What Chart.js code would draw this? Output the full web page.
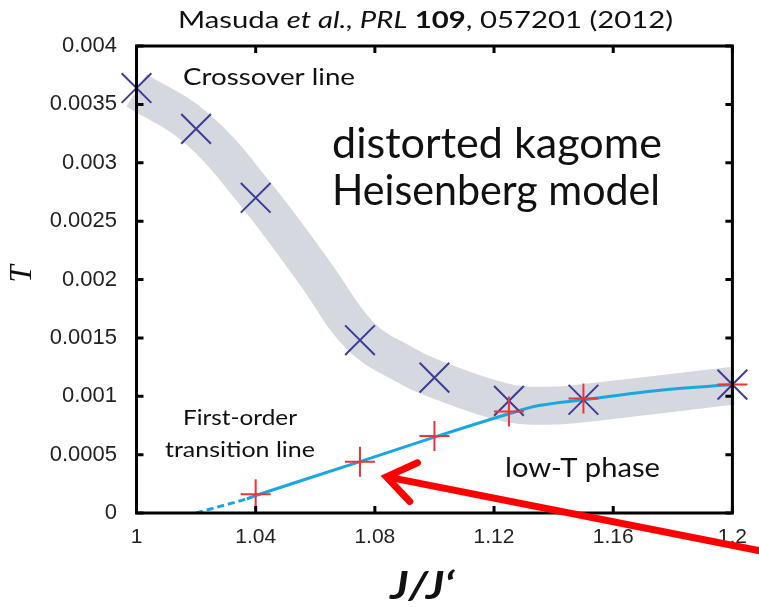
<!DOCTYPE html>
<html>
<head>
<meta charset="utf-8">
<script src="https://cdn.jsdelivr.net/npm/chart.js@4"></script>
<style>
  html, body { margin: 0; padding: 0; background: #fff; }
  #wrap { width: 759px; height: 607px; position: relative; }
</style>
</head>
<body>
<div id="wrap"><canvas id="c" width="759" height="607"></canvas></div>
<script>
// ---------- data ----------
const crossoverJ = [1, 1.02, 1.04, 1.075, 1.1, 1.125, 1.15, 1.2];
const crossoverT = [0.00364, 0.00329, 0.0027, 0.00148, 0.00116, 0.00096, 0.00097, 0.0011];

const transitionJ = [1.04, 1.075, 1.1, 1.125, 1.15, 1.2];
const transitionT = [0.00016, 0.00044, 0.00066, 0.00087, 0.00098, 0.0011];

// guide band drawn along the crossover line
const bandJ = [1, 1.02, 1.04, 1.06, 1.075, 1.09, 1.1, 1.125, 1.14, 1.15, 1.2];
const bandT = [0.00362, 0.0033, 0.00273, 0.00205, 0.00152, 0.00127, 0.00115, 0.00094, 0.00092, 0.00094, 0.00109];

// first-order transition line (dashed extrapolation + solid part)
const lineDashJ = [1.02, 1.037];
const lineDashT = [0, 0.00012];
const lineJ = [1.037, 1.04, 1.075, 1.1, 1.125, 1.135, 1.15, 1.175, 1.2];
const lineT = [0.00012, 0.00015, 0.00044, 0.00065, 0.00085, 0.00092, 0.00097, 0.00105, 0.0011];

const xTickValues = [1, 1.04, 1.08, 1.12, 1.16, 1.2];
const xTickLabels = ['1', '1.04', '1.08', '1.12', '1.16', '1.2'];
const yTickValues = [0, 0.0005, 0.001, 0.0015, 0.002, 0.0025, 0.003, 0.0035, 0.004];
const yTickLabels = ['0', '0.0005', '0.001', '0.0015', '0.002', '0.0025', '0.003', '0.0035', '0.004'];

// arrow annotation (data coordinates: tail -> tip)
const arrowJ = [1.2085, 1.0839];
const arrowT = [-0.00032, 0.00031];

const pts = (xs, ys) => xs.map((x, i) => ({ x: x, y: ys[i] }));

// ---------- annotation texts ----------
const CAL = "Lato, 'Open Sans', sans-serif";
const CAP = 0.7165; // Lato cap-height / em
const texts = [
  { t: 'Crossover line', x: 183, y: 85, w: 172, cap: 17, align: 'left', style: '' },
  { t: 'distorted kagome', x: 332, y: 158, w: 330, cap: 30, align: 'left', style: '' },
  { t: 'Heisenberg model', x: 332, y: 205, w: 328, cap: 30, align: 'left', style: '' },
  { t: 'First-order', x: 240, y: 425, w: 114, cap: 15, align: 'center', style: '' },
  { t: 'transition line', x: 240, y: 457, w: 150, cap: 15, align: 'center', style: '' },
  { t: 'low-T phase', x: 505, y: 477, w: 155, cap: 19, align: 'left', style: '' },
  { t: 'J/J\u2018', x: 422, y: 599, w: 64, cap: 27, align: 'center', style: 'italic bold ' }
];

function drawFitted(ctx, o) {
  const size = o.cap / CAP;
  ctx.font = o.style + size.toFixed(1) + 'px ' + CAL;
  const w = ctx.measureText(o.t).width;
  const sx = o.w / w;
  let left = o.x;
  if (o.align === 'center') left = o.x - o.w / 2;
  ctx.save();
  ctx.translate(left, o.y);
  ctx.scale(sx, 1);
  ctx.textAlign = 'left';
  ctx.fillText(o.t, 0, 0);
  ctx.restore();
}

const deco = {
  id: 'deco',
  afterDatasetsDraw(chart) {
    const ctx = chart.ctx;
    const a = chart.chartArea;
    const xs = chart.scales.x, ys = chart.scales.y;
    ctx.save();
    // frame
    ctx.strokeStyle = '#000';
    ctx.lineWidth = 3;
    ctx.strokeRect(a.left, a.top, a.right - a.left, a.bottom - a.top);
    // inward ticks
    const tl = 7;
    xTickValues.forEach(v => {
      const px = xs.getPixelForValue(v);
      ctx.beginPath();
      ctx.moveTo(px, a.bottom); ctx.lineTo(px, a.bottom - tl);
      ctx.moveTo(px, a.top); ctx.lineTo(px, a.top + tl);
      ctx.stroke();
    });
    yTickValues.forEach(v => {
      const py = ys.getPixelForValue(v);
      ctx.beginPath();
      ctx.moveTo(a.left, py); ctx.lineTo(a.left + tl, py);
      ctx.moveTo(a.right, py); ctx.lineTo(a.right - tl, py);
      ctx.stroke();
    });

    // texts
    ctx.fillStyle = '#111';
    ctx.textBaseline = 'alphabetic';
    texts.forEach(o => drawFitted(ctx, o));

    // title with mixed styles
    const segs = [
      { t: 'Masuda ', s: '' },
      { t: 'et al., PRL', s: 'italic ' },
      { t: ' ', s: '' },
      { t: '109', s: 'bold ' },
      { t: ', 057201 (2012)', s: '' }
    ];
    const tsize = 17 / CAP;
    let tot = 0;
    segs.forEach(g => { ctx.font = g.s + tsize.toFixed(1) + 'px ' + CAL; tot += ctx.measureText(g.t).width; });
    const tsx = 495 / tot;
    ctx.save();
    ctx.translate(178, 28);
    ctx.scale(tsx, 1);
    let cx = 0;
    ctx.textAlign = 'left';
    segs.forEach(g => {
      ctx.font = g.s + tsize.toFixed(1) + 'px ' + CAL;
      ctx.fillText(g.t, cx, 0);
      cx += ctx.measureText(g.t).width;
    });
    ctx.restore();

    // y axis label
    ctx.save();
    ctx.translate(23, 274);
    ctx.rotate(-Math.PI / 2);
    ctx.font = "italic 31px 'Liberation Serif', serif";
    ctx.textAlign = 'center';
    ctx.textBaseline = 'middle';
    ctx.fillStyle = '#111';
    ctx.fillText('T', 0, 0);
    ctx.restore();

    // red arrow
    const x0 = xs.getPixelForValue(arrowJ[0]), y0 = ys.getPixelForValue(arrowT[0]);
    const x1 = xs.getPixelForValue(arrowJ[1]), y1 = ys.getPixelForValue(arrowT[1]);
    const ang = Math.atan2(y1 - y0, x1 - x0);
    ctx.strokeStyle = '#ff0000';
    ctx.lineWidth = 7;
    ctx.lineCap = 'round';
    ctx.lineJoin = 'miter';
    ctx.beginPath();
    ctx.moveTo(x0 + 20, y0 + 20 * Math.tan(ang));
    ctx.lineTo(x1 - 3 * Math.cos(ang), y1 - 3 * Math.sin(ang));
    ctx.stroke();
    const hl = 34, ha = 0.62;
    ctx.beginPath();
    ctx.moveTo(x1 - hl * Math.cos(ang - ha), y1 - hl * Math.sin(ang - ha));
    ctx.lineTo(x1, y1);
    ctx.lineTo(x1 - hl * Math.cos(ang + ha), y1 - hl * Math.sin(ang + ha));
    ctx.stroke();
    ctx.restore();
  }
};

const xTickFont = { family: "'Liberation Sans', Arial, sans-serif", size: 21 };
const yTickFont = { family: "'Liberation Sans', Arial, sans-serif", size: 22 };

new Chart(document.getElementById('c'), {
  type: 'scatter',
  data: {
    datasets: [
      {
        label: 'band', data: pts(bandJ, bandT), showLine: true,
        borderColor: '#d5d8de', borderWidth: 38, tension: 0.4,
        pointRadius: 0, borderCapStyle: 'butt', clip: false, order: 5
      },
      {
        label: 'dash', data: pts(lineDashJ, lineDashT), showLine: true,
        borderColor: '#1aa7e0', borderWidth: 3, borderDash: [7, 4],
        pointRadius: 0, order: 4
      },
      {
        label: 'transition line', data: pts(lineJ, lineT), showLine: true,
        borderColor: '#1aa7e0', borderWidth: 3, tension: 0.35,
        pointRadius: 0, order: 3
      },
      {
        label: 'crossover', data: pts(crossoverJ, crossoverT), showLine: false,
        pointStyle: 'crossRot', pointRadius: 21, pointBorderWidth: 2,
        borderColor: '#3d3d98', backgroundColor: '#3d3d98', clip: false, order: 2
      },
      {
        label: 'first order', data: pts(transitionJ, transitionT), showLine: false,
        pointStyle: 'cross', pointRadius: 15, pointBorderWidth: 2,
        borderColor: '#ec3438', backgroundColor: '#ec3438', clip: false, order: 1
      }
    ]
  },
  options: {
    responsive: false,
    animation: false,
    devicePixelRatio: 1,
    layout: { padding: { top: 46, right: 25, left: 0, bottom: 0 } },
    plugins: { legend: { display: false }, tooltip: { enabled: false }, title: { display: false } },
    scales: {
      x: {
        type: 'linear', min: 1, max: 1.2,
        grid: { display: false, drawTicks: false },
        border: { display: false },
        afterBuildTicks: s => { s.ticks = xTickValues.map(v => ({ value: v })); },
        afterFit: s => { s.height = 94; },
        ticks: {
          font: xTickFont, color: '#222', padding: 12, maxRotation: 0, autoSkip: false,
          callback: (v, i) => xTickLabels[i]
        }
      },
      y: {
        type: 'linear', min: 0, max: 0.004,
        grid: { display: false, drawTicks: false },
        border: { display: false },
        afterBuildTicks: s => { s.ticks = yTickValues.map(v => ({ value: v })); },
        afterFit: s => { s.width = 136.5; },
        ticks: {
          font: yTickFont, color: '#222', padding: 19.5, autoSkip: false,
          callback: (v, i) => yTickLabels[i]
        }
      }
    }
  },
  plugins: [deco]
});
</script>
</body>
</html>
